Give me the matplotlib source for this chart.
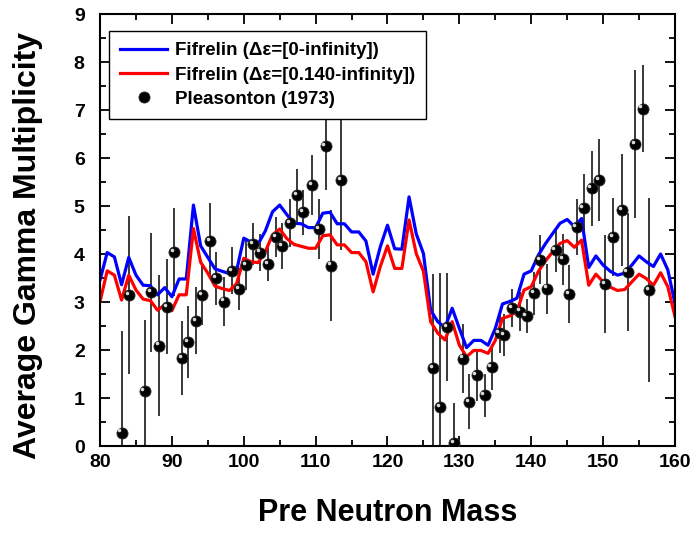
import matplotlib
matplotlib.use("Agg")
import matplotlib.pyplot as plt
from matplotlib.transforms import ScaledTranslation
from matplotlib.ticker import MultipleLocator

plt.rcParams['font.family'] = ['Liberation Sans', 'DejaVu Sans']
plt.rcParams['font.weight'] = 'bold'

# ---------------- data ----------------
mass = list(range(80, 161))

fifrelin_all = [3.46, 4.03, 3.94, 3.36, 3.93, 3.56, 3.35, 3.34, 3.15, 3.30,
                3.11, 3.48, 3.48, 5.02, 4.17, 3.93, 3.69, 3.64, 3.59, 3.65,
                4.33, 4.25, 4.21, 4.48, 4.88, 5.02, 4.82, 4.64, 4.63, 4.55,
                4.55, 4.85, 4.87, 4.63, 4.63, 4.46, 4.46, 4.27, 3.58, 4.15,
                4.60, 4.11, 4.10, 5.19, 4.42, 4.01, 2.83, 2.59, 2.47, 2.87,
                2.45, 2.05, 2.20, 2.20, 2.10, 2.45, 2.96, 3.01, 3.08, 3.58,
                3.65, 3.98, 4.22, 4.43, 4.64, 4.72, 4.57, 4.74, 3.72, 3.96,
                3.77, 3.64, 3.56, 3.60, 3.77, 3.96, 3.84, 3.74, 4.00, 3.67,
                2.97]

fifrelin_140 = [3.01, 3.65, 3.56, 3.04, 3.56, 3.25, 3.06, 3.03, 2.83, 2.94,
                2.82, 3.15, 3.15, 4.53, 3.83, 3.60, 3.33, 3.28, 3.24, 3.38,
                3.91, 3.84, 3.82, 4.05, 4.40, 4.52, 4.32, 4.20, 4.16, 4.12,
                4.12, 4.38, 4.40, 4.19, 4.19, 4.03, 4.03, 3.84, 3.21, 3.74,
                4.17, 3.70, 3.70, 4.71, 4.01, 3.64, 2.59, 2.35, 2.21, 2.59,
                2.10, 1.86, 1.99, 1.99, 1.93, 2.20, 2.66, 2.71, 2.80, 3.25,
                3.32, 3.64, 3.86, 4.05, 4.22, 4.28, 4.14, 4.29, 3.35, 3.58,
                3.42, 3.31, 3.24, 3.26, 3.42, 3.58, 3.49, 3.35, 3.61, 3.32,
                2.70]

pleas_mass = [83.0, 84.1, 86.2, 87.1, 88.2, 89.3, 90.3, 91.4, 92.3, 93.4,
              94.2, 95.3, 96.2, 97.25, 98.4, 99.3, 100.35, 101.3, 102.3, 103.4,
              104.45, 105.3, 106.4, 107.45, 108.3, 109.5, 110.5, 111.4, 112.2, 113.5,
              126.4, 127.3, 128.3, 129.25, 130.5, 131.4, 132.4, 133.5, 134.5, 135.6,
              136.2, 137.3, 138.4, 139.35, 140.4, 141.2, 142.2, 143.4, 144.4, 145.3,
              146.3, 147.3, 148.4, 149.4, 150.3, 151.4, 152.6, 153.4, 154.5, 155.5,
              156.4]
pleas_val = [0.28, 3.15, 1.15, 3.20, 2.09, 2.90, 4.04, 1.83, 2.17, 2.61,
             3.14, 4.27, 3.49, 3.01, 3.65, 3.27, 3.77, 4.21, 4.03, 3.79,
             4.35, 4.17, 4.64, 5.22, 4.87, 5.44, 4.52, 6.24, 3.76, 5.54,
             1.62, 0.81, 2.48, 0.06, 1.82, 0.92, 1.47, 1.06, 1.65, 2.36,
             2.31, 2.87, 2.80, 2.71, 3.18, 3.88, 3.28, 4.08, 3.89, 3.17,
             4.56, 4.95, 5.37, 5.54, 3.37, 4.36, 4.92, 3.63, 6.29, 7.03,
             3.25]
pleas_err = [2.12, 1.65, 1.48, 1.24, 1.47, 0.99, 0.91, 0.77, 0.75, 0.70,
             0.62, 0.80, 0.55, 0.52, 0.49, 0.43, 0.52, 0.44, 0.38, 0.36,
             0.42, 0.48, 0.50, 0.55, 0.47, 0.63, 0.63, 0.90, 1.15, 1.46,
             1.96, 2.79, 1.13, 0.83, 0.72, 0.57, 0.54, 0.45, 0.48, 0.42,
             0.44, 0.40, 0.40, 0.35, 0.45, 0.51, 0.52, 0.46, 0.53, 0.60,
             0.58, 0.72, 0.78, 0.86, 1.02, 0.81, 1.17, 1.23, 1.55, 0.90,
             1.92]

label_all = "Fifrelin (\u0394\u03b5=[0-infinity])"
label_140 = "Fifrelin (\u0394\u03b5=[0.140-infinity])"
label_pleas = "Pleasonton (1973)"

# ---------------- figure ----------------
fig = plt.figure(figsize=(6.97, 5.33), dpi=100)
ax = fig.add_axes([0.1435, 0.1632, 0.8249, 0.8105])

ax.errorbar(pleas_mass, pleas_val, yerr=pleas_err, fmt='none',
            ecolor='#2a2a2a', elinewidth=1.3, capsize=0, zorder=1)
l1, = ax.plot(mass, fifrelin_all, color='#0000ff', lw=2.3, zorder=2,
              label=label_all)
l2, = ax.plot(mass, fifrelin_140, color='#ff0000', lw=2.3, zorder=2,
              label=label_140)
l3, = ax.plot(pleas_mass, pleas_val, 'o', ms=8, mfc='black', mec='#303030',
              mew=0.6, zorder=3, label=label_pleas, linestyle='none')
hl = ax.transData + ScaledTranslation(-1.6 / 72, 1.6 / 72, fig.dpi_scale_trans)
ax.plot(pleas_mass, pleas_val, 'o', ms=2.6, mfc='white', mec='none',
        alpha=0.85, transform=hl, zorder=4, linestyle='none')

ax.set_xlim(80, 160)
ax.set_ylim(0, 9)
ax.xaxis.set_major_locator(MultipleLocator(10))
ax.xaxis.set_minor_locator(MultipleLocator(5))
ax.yaxis.set_major_locator(MultipleLocator(1))
ax.yaxis.set_minor_locator(MultipleLocator(0.5))
ax.tick_params(which='both', direction='in', top=True, right=True,
               width=1.3)
ax.tick_params(which='major', length=7, labelsize=14)
ax.tick_params(axis='x', which='major', pad=6)
ax.tick_params(axis='y', which='major', pad=11)
ax.tick_params(which='minor', length=4)
for lab in ax.get_xticklabels() + ax.get_yticklabels():
    lab.set_fontweight('bold')
for sp in ax.spines.values():
    sp.set_linewidth(1.5)

ax.set_xlabel("Pre Neutron Mass", fontsize=22, fontweight='bold', va='top')
ax.xaxis.set_label_coords(0.5, -0.12)
ax.set_ylabel("Average Gamma Multiplicity", fontsize=23, fontweight='bold')
ax.yaxis.set_label_coords(-0.10, 0.465)

leg = ax.legend(handles=[l1, l2, l3], loc='upper left',
                bbox_to_anchor=(0.0157, 0.9606), borderaxespad=0,
                frameon=True, fancybox=False, framealpha=1,
                edgecolor='black', handlelength=2.5, handletextpad=0.4,
                labelspacing=0.38, borderpad=0.6,
                prop={'weight': 'bold', 'size': 13.5})
leg.get_frame().set_linewidth(1.0)
leg.set_zorder(10)

fig.savefig("out.png", dpi=100)
